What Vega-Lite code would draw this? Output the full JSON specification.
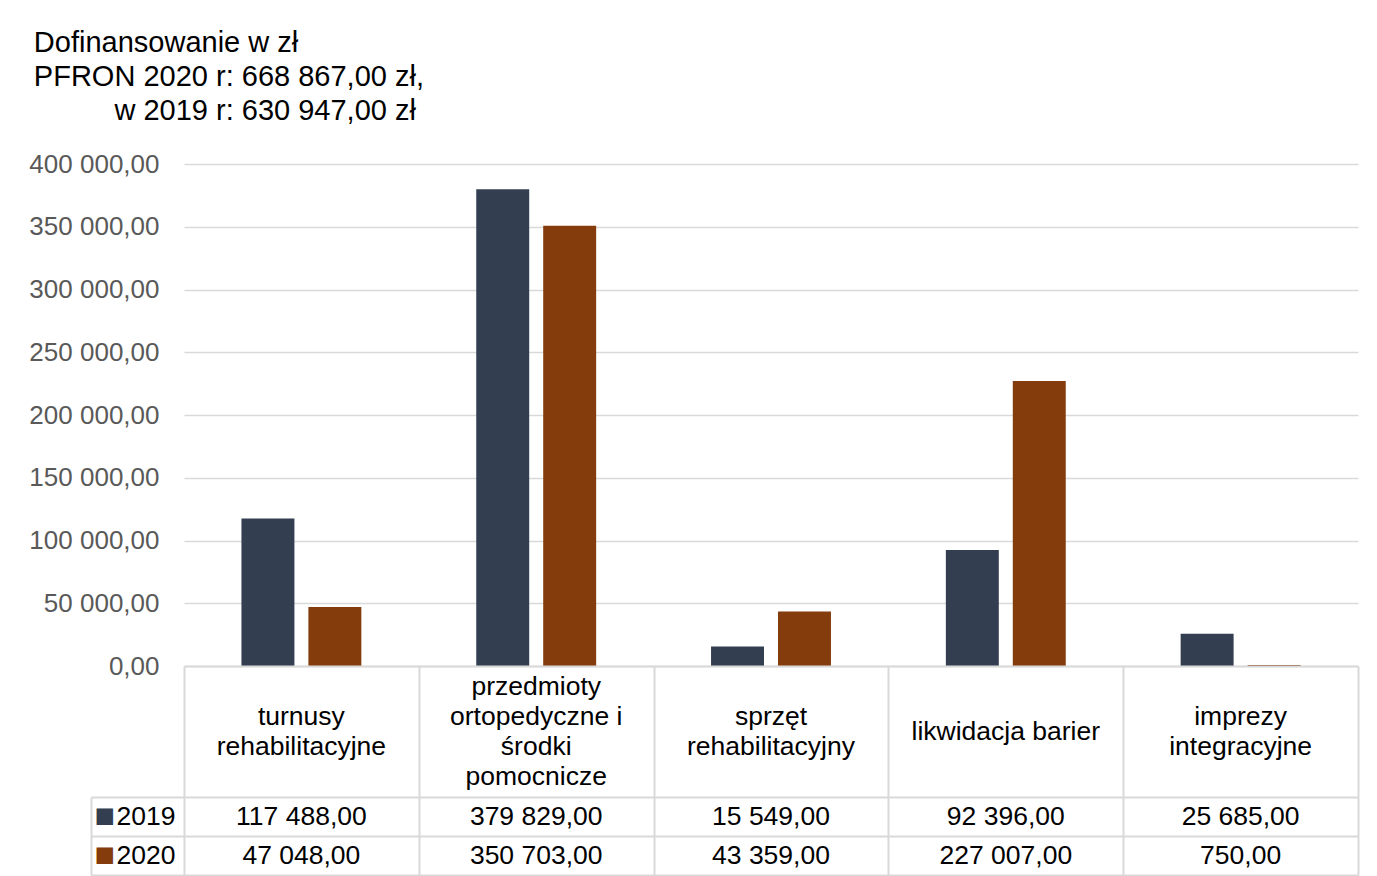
{
  "$schema": "https://vega.github.io/schema/vega-lite/v6.json",
  "background": "white",
  "padding": {"left": 28, "top": 29, "right": 20, "bottom": 0},
  "config": {
    "locale": {"number": {"decimal": ",", "thousands": " ", "grouping": [3], "currency": ["", " zł"]}},
    "font": "Liberation Sans",
    "view": {"stroke": null}
  },
  "title": {
    "text": ["Dofinansowanie w zł", "PFRON 2020 r: 668 867,00 zł,", "\u200b\u00a0\u00a0\u00a0\u00a0\u00a0\u00a0\u00a0\u00a0\u00a0\u00a0w 2019 r: 630 947,00 zł"],
    "anchor": "start",
    "fontSize": 29,
    "fontWeight": "normal",
    "color": "#000000",
    "lineHeight": 34,
    "offset": 25,
    "dx": 5
  },
  "datasets": {
    "d": [
      {"kategoria": "turnusy rehabilitacyjne", "etykieta": "turnusy\nrehabilitacyjne", "rok": "2019", "kwota": 117488},
      {"kategoria": "turnusy rehabilitacyjne", "etykieta": "turnusy\nrehabilitacyjne", "rok": "2020", "kwota": 47048},
      {"kategoria": "przedmioty ortopedyczne i środki pomocnicze", "etykieta": "przedmioty\nortopedyczne i\nśrodki\npomocnicze", "rok": "2019", "kwota": 379829},
      {"kategoria": "przedmioty ortopedyczne i środki pomocnicze", "etykieta": "przedmioty\nortopedyczne i\nśrodki\npomocnicze", "rok": "2020", "kwota": 350703},
      {"kategoria": "sprzęt rehabilitacyjny", "etykieta": "sprzęt\nrehabilitacyjny", "rok": "2019", "kwota": 15549},
      {"kategoria": "sprzęt rehabilitacyjny", "etykieta": "sprzęt\nrehabilitacyjny", "rok": "2020", "kwota": 43359},
      {"kategoria": "likwidacja barier", "etykieta": "likwidacja barier", "rok": "2019", "kwota": 92396},
      {"kategoria": "likwidacja barier", "etykieta": "likwidacja barier", "rok": "2020", "kwota": 227007},
      {"kategoria": "imprezy integracyjne", "etykieta": "imprezy\nintegracyjne", "rok": "2019", "kwota": 25685},
      {"kategoria": "imprezy integracyjne", "etykieta": "imprezy\nintegracyjne", "rok": "2020", "kwota": 750}
    ]
  },
  "spacing": 0,
  "bounds": "flush",
  "resolve": {"scale": {"x": "independent", "y": "independent", "color": "independent"}},
  "vconcat": [
    {
      "width": 1174,
      "height": 502,
      "data": {"name": "d"},
      "mark": {"type": "bar"},
      "encoding": {
        "x": {"field": "kategoria", "type": "nominal", "sort": null, "scale": {"paddingInner": 0, "paddingOuter": 0}, "axis": null},
        "xOffset": {"field": "rok", "type": "nominal", "scale": {"paddingInner": 0.209, "paddingOuter": 0.858}},
        "y": {
          "field": "kwota", "type": "quantitative",
          "scale": {"domain": [0, 400000], "nice": false},
          "axis": {
            "values": [0, 50000, 100000, 150000, 200000, 250000, 300000, 350000, 400000],
            "format": ",.2f", "title": null, "domain": false, "ticks": false,
            "labelPadding": 25, "labelFontSize": 26, "labelColor": "#595959",
            "gridColor": "#d9d9d9", "gridWidth": 1.5
          }
        },
        "color": {"field": "rok", "type": "nominal", "scale": {"range": ["#333F50", "#843C0C"]}, "legend": null}
      }
    },
    {
      "width": 1174,
      "height": 131,
      "data": {"name": "d"},
      "transform": [{"filter": "datum.rok == '2019'"}],
      "mark": {"type": "text", "fontSize": 26.5, "lineHeight": 30, "lineBreak": "\n", "color": "#000000", "baseline": "middle",
        "dy": {"expr": "-15 * (length(split(datum.etykieta, '\\n')) - 1)"}},
      "encoding": {
        "x": {
          "field": "kategoria", "type": "nominal", "sort": null,
          "scale": {"paddingInner": 0, "paddingOuter": 0},
          "axis": {"orient": "top", "title": null, "labels": false, "ticks": false, "domain": true, "domainColor": "#d9d9d9", "domainWidth": 2, "grid": true, "gridColor": "#d9d9d9", "gridWidth": 2, "tickBand": "extent"}
        },
        "text": {"field": "etykieta", "type": "nominal"}
      }
    },
    {
      "width": 1174,
      "height": 78,
      "data": {"name": "d"},
      "encoding": {
        "x": {
          "field": "kategoria", "type": "nominal", "sort": null,
          "scale": {"paddingInner": 0, "paddingOuter": 0},
          "axis": {"title": null, "labels": false, "ticks": false, "domain": false, "grid": true, "gridColor": "#d9d9d9", "gridWidth": 2, "tickBand": "extent"}
        }
      },
      "layer": [
        {
          "mark": {"type": "text", "fontSize": 26.5, "color": "#000000"},
          "encoding": {
            "text": {"field": "kwota", "type": "quantitative", "format": ",.2f"},
            "y": {
              "field": "rok", "type": "nominal",
              "scale": {"paddingInner": 0, "paddingOuter": 0},
              "axis": {"title": null, "domain": false, "ticks": true, "tickSize": 93, "tickColor": "#d9d9d9", "tickWidth": 2, "tickBand": "extent", "grid": true, "gridColor": "#d9d9d9", "gridWidth": 2, "labelAlign": "left", "labelPadding": -25, "labelFontSize": 26.5, "labelColor": "#000000"}
            }
          }
        },
        {
          "mark": {"type": "text", "text": ""},
          "encoding": {
            "y": {
              "field": "rok", "type": "nominal",
              "axis": {"title": null, "orient": "left", "offset": 93, "domain": true, "domainColor": "#d9d9d9", "domainWidth": 2, "ticks": false, "grid": false, "labelExpr": "'■'", "labelAlign": "left", "labelPadding": -3, "labelFontSize": 34,
                "labelColor": {"condition": {"test": "datum.value == '2019'", "value": "#333F50"}, "value": "#843C0C"}}
            }
          }
        }
      ],
      "resolve": {"axis": {"y": "independent"}}
    }
  ]
}
